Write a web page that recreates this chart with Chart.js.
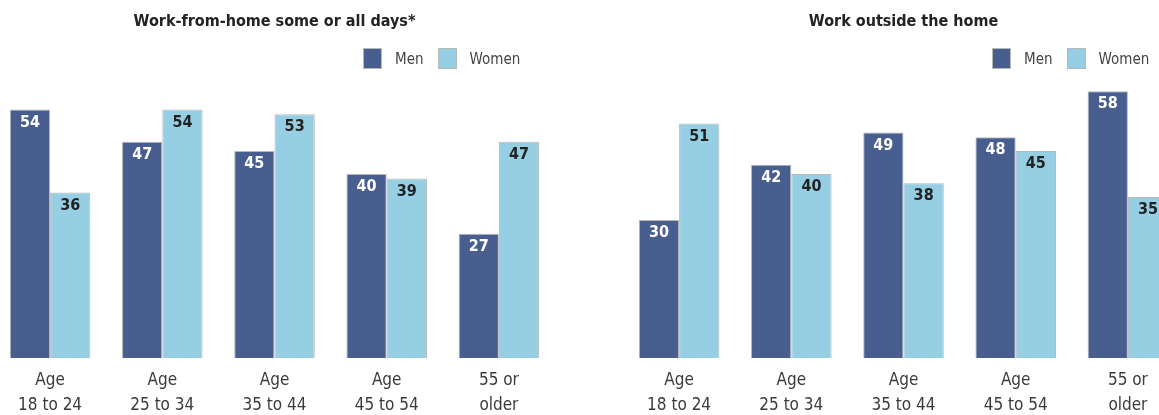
<!DOCTYPE html>
<html>
<head>
<meta charset="utf-8">
<script src="https://cdn.jsdelivr.net/npm/chart.js@4/dist/chart.umd.min.js"></script>
<style>
  html, body { margin: 0; padding: 0; background: #fff; overflow: hidden; }
  body { width: 1159px; height: 415px; position: relative; }
  .box { position: absolute; top: 0; height: 415px; width: 561px; }
  .legend { position: absolute; top: 48px; display: flex; align-items: center;
    font-family: "DejaVu Sans Condensed", "Liberation Sans", sans-serif; font-size: 15px; color: #444; }
  .legend span.sw { display: inline-block; width: 19px; height: 21px; box-sizing: border-box;
    border: 1px solid #b8b8b8; margin-right: 13px; }
  .legend span.lb { margin-right: 14px; }
</style>
</head>
<body>
<div class="box" style="left:-6px"><canvas id="home"></canvas></div>
<div class="box" style="left:623px"><canvas id="outside"></canvas></div>
<div class="legend" id="legHome" style="left:363px"></div>
<div class="legend" id="legOutside" style="left:992px"></div>
<script>
const categories = [['Age', '18 to 24'], ['Age', '25 to 34'], ['Age', '35 to 44'], ['Age', '45 to 54'], ['55 or', 'older']];
const seriesNames = ['Men', 'Women'];
const homeMen = [54, 47, 45, 40, 27];
const homeWomen = [36, 54, 53, 39, 47];
const outsideMen = [30, 42, 49, 48, 58];
const outsideWomen = [51, 40, 38, 45, 35];

const colMen = '#475e8f';
const colWomen = '#96cfe4';
const narrow = '"DejaVu Sans Condensed", "Liberation Sans", sans-serif';

// numbers inside the top of each bar
const valueLabels = {
    id: 'valueLabels',
    afterDatasetsDraw(chart) {
        const ctx = chart.ctx;
        ctx.save();
        ctx.font = 'bold 16px ' + narrow;
        ctx.textAlign = 'center';
        ctx.textBaseline = 'middle';
        chart.data.datasets.forEach((ds, i) => {
            chart.getDatasetMeta(i).data.forEach((bar, j) => {
                ctx.fillStyle = i == 0 ? '#fff' : '#222';
                ctx.fillText(ds.data[j], bar.x, bar.y + 13);
            });
        });
        ctx.restore();
    }
};

function makeChart(id, title, men, women) {
    return new Chart(document.getElementById(id), {
        type: 'bar',
        data: {
            labels: categories,
            datasets: [{
                label: seriesNames[0],
                data: men,
                backgroundColor: colMen,
                borderColor: '#b8b8b8',
                borderWidth: 1
            }, {
                label: seriesNames[1],
                data: women,
                backgroundColor: colWomen,
                borderColor: '#b8b8b8',
                borderWidth: 1
            }]
        },
        options: {
            responsive: true,
            maintainAspectRatio: false,
            animation: false,
            categoryPercentage: 0.718,
            barPercentage: 1,
            layout: { padding: 0 },
            plugins: {
                legend: { display: false },
                tooltip: { enabled: false },
                title: {
                    display: true,
                    text: title,
                    color: '#222',
                    font: { family: narrow, size: 16, weight: 'bold', lineHeight: 1.2 },
                    padding: { top: 12, bottom: 50.8 }
                }
            },
            scales: {
                x: {
                    grid: { display: false, drawTicks: false },
                    border: { display: false },
                    ticks: {
                        color: '#3a3a3a',
                        font: { family: narrow, size: 17, lineHeight: 1.47 },
                        padding: 10,
                        maxRotation: 0,
                        autoSkip: false
                    },
                    afterFit: s => { s.height = 57; }
                },
                y: {
                    display: false,
                    min: 0,
                    max: 60
                }
            }
        },
        plugins: [valueLabels]
    });
}

function makeLegend(id) {
    const el = document.getElementById(id);
    [colMen, colWomen].forEach((c, i) => {
        const sw = document.createElement('span');
        sw.className = 'sw';
        sw.style.background = c;
        const lb = document.createElement('span');
        lb.className = 'lb';
        lb.textContent = seriesNames[i];
        el.appendChild(sw);
        el.appendChild(lb);
    });
}

makeChart('home', 'Work-from-home some or all days*', homeMen, homeWomen);
makeChart('outside', 'Work outside the home', outsideMen, outsideWomen);
makeLegend('legHome');
makeLegend('legOutside');
</script>
</body>
</html>
